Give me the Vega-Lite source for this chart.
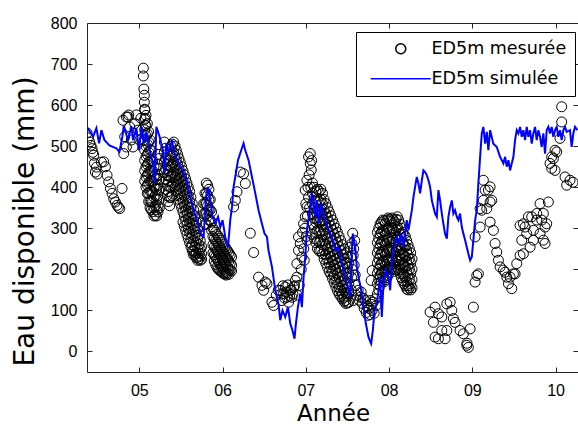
{
"$schema": "https://vega.github.io/schema/vega-lite/v6.json",
"width": 491, "height": 349,
"autosize": {"type": "none"},
"padding": {"left": 87, "top": 23, "right": 0, "bottom": 53},
"background": "white",
"config": {"view": {"stroke": null}, "font": "Liberation Sans"},
"datasets": {
"mesure": [
{"t":2004.372,"v":532},{"t":2004.388,"v":520},{"t":2004.403,"v":510},{"t":2004.418,"v":502},{"t":2004.432,"v":494},{"t":2004.442,"v":485},{"t":2004.451,"v":478},{"t":2004.460,"v":458},{"t":2004.472,"v":437},{"t":2004.484,"v":449},{"t":2004.496,"v":432},
{"t":2004.544,"v":461},{"t":2004.572,"v":462},{"t":2004.592,"v":450},{"t":2004.612,"v":429},{"t":2004.632,"v":413},{"t":2004.652,"v":397},{"t":2004.672,"v":385},{"t":2004.692,"v":372},{"t":2004.712,"v":364},{"t":2004.732,"v":356},{"t":2004.748,"v":351},{"t":2004.764,"v":348},{"t":2004.792,"v":397},{"t":2004.812,"v":482},
{"t":2004.804,"v":563},{"t":2004.824,"v":523},{"t":2004.844,"v":498},{"t":2004.844,"v":571},{"t":2004.864,"v":571},{"t":2004.872,"v":576},{"t":2004.884,"v":547},{"t":2004.904,"v":515},{"t":2004.924,"v":498},{"t":2004.944,"v":555},{"t":2004.964,"v":576},{"t":2004.984,"v":539},{"t":2005.004,"v":515},{"t":2005.018,"v":568},
{"t":2005.048,"v":690},{"t":2005.048,"v":671},{"t":2005.054,"v":639},{"t":2005.060,"v":624},{"t":2005.060,"v":607},{"t":2005.066,"v":588},{"t":2005.072,"v":568},{"t":2005.072,"v":551},
{"t":2005.064,"v":590},{"t":2005.064,"v":565},{"t":2005.064,"v":540},{"t":2005.064,"v":515},{"t":2005.064,"v":490},{"t":2005.064,"v":465},{"t":2005.064,"v":440},{"t":2005.064,"v":415},
{"t":2005.080,"v":575},{"t":2005.080,"v":550},{"t":2005.080,"v":525},{"t":2005.080,"v":500},{"t":2005.080,"v":475},{"t":2005.080,"v":450},{"t":2005.080,"v":425},{"t":2005.080,"v":400},
{"t":2005.096,"v":555},{"t":2005.096,"v":530},{"t":2005.096,"v":505},{"t":2005.096,"v":480},{"t":2005.096,"v":455},{"t":2005.096,"v":430},{"t":2005.096,"v":405},{"t":2005.096,"v":385},
{"t":2005.112,"v":535},{"t":2005.112,"v":510},{"t":2005.112,"v":485},{"t":2005.112,"v":460},{"t":2005.112,"v":435},{"t":2005.112,"v":410},{"t":2005.112,"v":385},{"t":2005.112,"v":365},
{"t":2005.128,"v":515},{"t":2005.128,"v":490},{"t":2005.128,"v":465},{"t":2005.128,"v":440},{"t":2005.128,"v":415},{"t":2005.128,"v":390},{"t":2005.128,"v":365},{"t":2005.128,"v":350},
{"t":2005.144,"v":490},{"t":2005.144,"v":465},{"t":2005.144,"v":440},{"t":2005.144,"v":415},{"t":2005.144,"v":390},{"t":2005.144,"v":365},{"t":2005.144,"v":345},
{"t":2005.160,"v":465},{"t":2005.160,"v":440},{"t":2005.160,"v":415},{"t":2005.160,"v":390},{"t":2005.160,"v":365},{"t":2005.160,"v":340},
{"t":2005.176,"v":450},{"t":2005.176,"v":425},{"t":2005.176,"v":400},{"t":2005.176,"v":375},{"t":2005.176,"v":350},{"t":2005.176,"v":330},
{"t":2005.192,"v":430},{"t":2005.192,"v":405},{"t":2005.192,"v":380},{"t":2005.192,"v":355},{"t":2005.192,"v":332},
{"t":2005.208,"v":420},{"t":2005.208,"v":395},{"t":2005.208,"v":370},{"t":2005.208,"v":345},{"t":2005.208,"v":330},
{"t":2005.224,"v":480},{"t":2005.224,"v":455},{"t":2005.224,"v":430},{"t":2005.224,"v":405},{"t":2005.224,"v":380},{"t":2005.224,"v":355},{"t":2005.224,"v":340},
{"t":2005.240,"v":470},{"t":2005.240,"v":445},{"t":2005.240,"v":420},{"t":2005.240,"v":395},{"t":2005.240,"v":370},{"t":2005.240,"v":350},
{"t":2005.300,"v":510},{"t":2005.300,"v":485},{"t":2005.300,"v":460},{"t":2005.300,"v":435},
{"t":2005.316,"v":495},{"t":2005.316,"v":470},{"t":2005.316,"v":445},{"t":2005.316,"v":420},{"t":2005.316,"v":395},
{"t":2005.332,"v":480},{"t":2005.332,"v":455},{"t":2005.332,"v":430},{"t":2005.332,"v":405},{"t":2005.332,"v":380},
{"t":2005.348,"v":465},{"t":2005.348,"v":440},{"t":2005.348,"v":415},{"t":2005.348,"v":390},{"t":2005.348,"v":365},
{"t":2005.364,"v":450},{"t":2005.364,"v":425},{"t":2005.364,"v":400},{"t":2005.364,"v":375},{"t":2005.364,"v":355},
{"t":2005.380,"v":500},{"t":2005.380,"v":475},{"t":2005.380,"v":450},{"t":2005.380,"v":425},{"t":2005.380,"v":400},{"t":2005.380,"v":375},
{"t":2005.396,"v":505},{"t":2005.396,"v":480},{"t":2005.396,"v":455},{"t":2005.396,"v":430},{"t":2005.396,"v":405},{"t":2005.396,"v":380},
{"t":2005.412,"v":510},{"t":2005.412,"v":485},{"t":2005.412,"v":460},{"t":2005.412,"v":435},{"t":2005.412,"v":410},
{"t":2005.428,"v":500},{"t":2005.428,"v":475},{"t":2005.428,"v":450},{"t":2005.428,"v":425},{"t":2005.428,"v":400},
{"t":2005.444,"v":490},{"t":2005.444,"v":465},{"t":2005.444,"v":440},{"t":2005.444,"v":415},{"t":2005.444,"v":390},
{"t":2005.460,"v":480},{"t":2005.460,"v":455},{"t":2005.460,"v":430},{"t":2005.460,"v":405},{"t":2005.460,"v":380},
{"t":2005.476,"v":470},{"t":2005.476,"v":445},{"t":2005.476,"v":420},{"t":2005.476,"v":395},{"t":2005.476,"v":370},
{"t":2005.492,"v":460},{"t":2005.492,"v":435},{"t":2005.492,"v":410},{"t":2005.492,"v":385},{"t":2005.492,"v":360},
{"t":2005.508,"v":450},{"t":2005.508,"v":425},{"t":2005.508,"v":400},{"t":2005.508,"v":375},{"t":2005.508,"v":350},
{"t":2005.524,"v":440},{"t":2005.524,"v":415},{"t":2005.524,"v":390},{"t":2005.524,"v":365},{"t":2005.524,"v":340},{"t":2005.524,"v":315},
{"t":2005.540,"v":430},{"t":2005.540,"v":405},{"t":2005.540,"v":380},{"t":2005.540,"v":355},{"t":2005.540,"v":330},{"t":2005.540,"v":305},
{"t":2005.556,"v":420},{"t":2005.556,"v":395},{"t":2005.556,"v":370},{"t":2005.556,"v":345},{"t":2005.556,"v":320},{"t":2005.556,"v":295},
{"t":2005.572,"v":410},{"t":2005.572,"v":385},{"t":2005.572,"v":360},{"t":2005.572,"v":335},{"t":2005.572,"v":310},{"t":2005.572,"v":285},
{"t":2005.588,"v":400},{"t":2005.588,"v":375},{"t":2005.588,"v":350},{"t":2005.588,"v":325},{"t":2005.588,"v":300},{"t":2005.588,"v":275},
{"t":2005.604,"v":390},{"t":2005.604,"v":365},{"t":2005.604,"v":340},{"t":2005.604,"v":315},{"t":2005.604,"v":290},{"t":2005.604,"v":265},
{"t":2005.620,"v":375},{"t":2005.620,"v":350},{"t":2005.620,"v":325},{"t":2005.620,"v":300},{"t":2005.620,"v":275},{"t":2005.620,"v":255},
{"t":2005.636,"v":360},{"t":2005.636,"v":335},{"t":2005.636,"v":310},{"t":2005.636,"v":285},{"t":2005.636,"v":260},{"t":2005.636,"v":245},
{"t":2005.652,"v":345},{"t":2005.652,"v":320},{"t":2005.652,"v":295},{"t":2005.652,"v":270},{"t":2005.652,"v":245},{"t":2005.652,"v":235},
{"t":2005.668,"v":330},{"t":2005.668,"v":305},{"t":2005.668,"v":280},{"t":2005.668,"v":255},{"t":2005.668,"v":235},
{"t":2005.684,"v":315},{"t":2005.684,"v":290},{"t":2005.684,"v":265},{"t":2005.684,"v":240},{"t":2005.684,"v":228},
{"t":2005.700,"v":300},{"t":2005.700,"v":275},{"t":2005.700,"v":250},{"t":2005.700,"v":230},{"t":2005.700,"v":222},
{"t":2005.716,"v":285},{"t":2005.716,"v":260},{"t":2005.716,"v":240},{"t":2005.716,"v":225},
{"t":2005.732,"v":270},{"t":2005.732,"v":250},{"t":2005.732,"v":232},{"t":2005.732,"v":222},
{"t":2005.748,"v":255},{"t":2005.748,"v":238},{"t":2005.748,"v":225},
{"t":2005.772,"v":360},{"t":2005.772,"v":335},
{"t":2005.788,"v":385},{"t":2005.788,"v":360},{"t":2005.788,"v":335},{"t":2005.788,"v":310},
{"t":2005.804,"v":410},{"t":2005.804,"v":385},{"t":2005.804,"v":360},{"t":2005.804,"v":335},{"t":2005.804,"v":310},
{"t":2005.820,"v":405},{"t":2005.820,"v":380},{"t":2005.820,"v":355},{"t":2005.820,"v":330},
{"t":2005.836,"v":395},{"t":2005.836,"v":370},{"t":2005.836,"v":345},{"t":2005.836,"v":320},
{"t":2005.852,"v":370},{"t":2005.852,"v":345},{"t":2005.852,"v":320},
{"t":2005.868,"v":340},{"t":2005.868,"v":315},{"t":2005.868,"v":295},
{"t":2005.884,"v":300},{"t":2005.884,"v":280},{"t":2005.884,"v":260},{"t":2005.884,"v":240},
{"t":2005.900,"v":295},{"t":2005.900,"v":275},{"t":2005.900,"v":255},{"t":2005.900,"v":235},{"t":2005.900,"v":220},
{"t":2005.916,"v":290},{"t":2005.916,"v":270},{"t":2005.916,"v":250},{"t":2005.916,"v":230},{"t":2005.916,"v":212},
{"t":2005.932,"v":285},{"t":2005.932,"v":265},{"t":2005.932,"v":245},{"t":2005.932,"v":225},{"t":2005.932,"v":205},
{"t":2005.948,"v":280},{"t":2005.948,"v":260},{"t":2005.948,"v":240},{"t":2005.948,"v":220},{"t":2005.948,"v":200},
{"t":2005.964,"v":275},{"t":2005.964,"v":255},{"t":2005.964,"v":235},{"t":2005.964,"v":215},{"t":2005.964,"v":198},
{"t":2005.980,"v":270},{"t":2005.980,"v":250},{"t":2005.980,"v":230},{"t":2005.980,"v":210},{"t":2005.980,"v":195},
{"t":2005.996,"v":265},{"t":2005.996,"v":245},{"t":2005.996,"v":225},{"t":2005.996,"v":205},{"t":2005.996,"v":192},
{"t":2006.012,"v":260},{"t":2006.012,"v":240},{"t":2006.012,"v":220},{"t":2006.012,"v":200},{"t":2006.012,"v":190},
{"t":2006.028,"v":255},{"t":2006.028,"v":235},{"t":2006.028,"v":215},{"t":2006.028,"v":195},{"t":2006.028,"v":188},
{"t":2006.044,"v":250},{"t":2006.044,"v":230},{"t":2006.044,"v":210},{"t":2006.044,"v":192},{"t":2006.044,"v":186},
{"t":2006.060,"v":245},{"t":2006.060,"v":225},{"t":2006.060,"v":205},{"t":2006.060,"v":190},
{"t":2006.076,"v":240},{"t":2006.076,"v":220},{"t":2006.076,"v":200},{"t":2006.076,"v":188},
{"t":2006.092,"v":235},{"t":2006.092,"v":215},{"t":2006.092,"v":198},
{"t":2006.108,"v":230},{"t":2006.108,"v":210},{"t":2006.108,"v":196},
{"t":2006.132,"v":352},{"t":2006.153,"v":368},{"t":2006.173,"v":389},{"t":2006.213,"v":437},{"t":2006.252,"v":433},{"t":2006.273,"v":409},{"t":2006.333,"v":288},{"t":2006.373,"v":241},{"t":2006.432,"v":181},{"t":2006.473,"v":161},{"t":2006.493,"v":149},{"t":2006.513,"v":169},{"t":2006.533,"v":165},{"t":2006.593,"v":120},{"t":2006.613,"v":112},
{"t":2006.645,"v":137},{"t":2006.669,"v":149},{"t":2006.693,"v":149},{"t":2006.705,"v":140},{"t":2006.713,"v":124},{"t":2006.725,"v":160},{"t":2006.733,"v":141},{"t":2006.745,"v":130},{"t":2006.753,"v":157},{"t":2006.765,"v":145},{"t":2006.773,"v":132},{"t":2006.785,"v":162},{"t":2006.793,"v":120},{"t":2006.805,"v":135},{"t":2006.813,"v":149},{"t":2006.825,"v":150},{"t":2006.833,"v":132},{"t":2006.845,"v":140},{"t":2006.853,"v":157},{"t":2006.865,"v":160},{"t":2006.873,"v":173},{"t":2006.893,"v":181},{"t":2006.897,"v":137},{"t":2006.921,"v":161},
{"t":2006.893,"v":214},{"t":2006.912,"v":246},{"t":2006.912,"v":279},{"t":2006.933,"v":263},{"t":2006.945,"v":200},{"t":2006.953,"v":230},{"t":2006.960,"v":290},{"t":2006.973,"v":311},{"t":2006.975,"v":250},{"t":2006.981,"v":222},{"t":2006.990,"v":300},{"t":2006.993,"v":328},{"t":2006.993,"v":393},{"t":2007.000,"v":360},{"t":2007.005,"v":280},{"t":2007.013,"v":352},{"t":2007.013,"v":417},{"t":2007.017,"v":271},{"t":2007.020,"v":330},{"t":2007.025,"v":400},{"t":2007.033,"v":376},{"t":2007.033,"v":474},{"t":2007.040,"v":430},{"t":2007.045,"v":350},{"t":2007.053,"v":458},{"t":2007.053,"v":482},{"t":2007.060,"v":400},{"t":2007.065,"v":442},{"t":2007.070,"v":465},
{"t":2007.080,"v":410},{"t":2007.080,"v":385},{"t":2007.080,"v":360},{"t":2007.080,"v":335},{"t":2007.080,"v":310},{"t":2007.080,"v":285},
{"t":2007.100,"v":400},{"t":2007.100,"v":375},{"t":2007.100,"v":350},{"t":2007.100,"v":325},{"t":2007.100,"v":300},{"t":2007.100,"v":275},
{"t":2007.120,"v":390},{"t":2007.120,"v":365},{"t":2007.120,"v":340},{"t":2007.120,"v":315},{"t":2007.120,"v":290},{"t":2007.120,"v":265},
{"t":2007.140,"v":395},{"t":2007.140,"v":370},{"t":2007.140,"v":345},{"t":2007.140,"v":320},{"t":2007.140,"v":295},{"t":2007.140,"v":270},{"t":2007.140,"v":250},
{"t":2007.160,"v":390},{"t":2007.160,"v":365},{"t":2007.160,"v":340},{"t":2007.160,"v":315},{"t":2007.160,"v":290},{"t":2007.160,"v":265},{"t":2007.160,"v":245},
{"t":2007.180,"v":395},{"t":2007.180,"v":370},{"t":2007.180,"v":345},{"t":2007.180,"v":320},{"t":2007.180,"v":295},{"t":2007.180,"v":270},{"t":2007.180,"v":245},
{"t":2007.200,"v":385},{"t":2007.200,"v":360},{"t":2007.200,"v":335},{"t":2007.200,"v":310},{"t":2007.200,"v":285},{"t":2007.200,"v":260},{"t":2007.200,"v":238},
{"t":2007.220,"v":370},{"t":2007.220,"v":345},{"t":2007.220,"v":320},{"t":2007.220,"v":295},{"t":2007.220,"v":270},{"t":2007.220,"v":245},{"t":2007.220,"v":225},
{"t":2007.240,"v":360},{"t":2007.240,"v":335},{"t":2007.240,"v":310},{"t":2007.240,"v":285},{"t":2007.240,"v":260},{"t":2007.240,"v":235},{"t":2007.240,"v":215},
{"t":2007.260,"v":350},{"t":2007.260,"v":325},{"t":2007.260,"v":300},{"t":2007.260,"v":275},{"t":2007.260,"v":250},{"t":2007.260,"v":225},{"t":2007.260,"v":205},
{"t":2007.280,"v":340},{"t":2007.280,"v":315},{"t":2007.280,"v":290},{"t":2007.280,"v":265},{"t":2007.280,"v":240},{"t":2007.280,"v":215},{"t":2007.280,"v":195},
{"t":2007.300,"v":330},{"t":2007.300,"v":305},{"t":2007.300,"v":280},{"t":2007.300,"v":255},{"t":2007.300,"v":230},{"t":2007.300,"v":205},{"t":2007.300,"v":188},
{"t":2007.320,"v":320},{"t":2007.320,"v":295},{"t":2007.320,"v":270},{"t":2007.320,"v":245},{"t":2007.320,"v":220},{"t":2007.320,"v":195},{"t":2007.320,"v":178},
{"t":2007.340,"v":310},{"t":2007.340,"v":285},{"t":2007.340,"v":260},{"t":2007.340,"v":235},{"t":2007.340,"v":210},{"t":2007.340,"v":185},{"t":2007.340,"v":168},
{"t":2007.360,"v":300},{"t":2007.360,"v":275},{"t":2007.360,"v":250},{"t":2007.360,"v":225},{"t":2007.360,"v":200},{"t":2007.360,"v":175},{"t":2007.360,"v":158},
{"t":2007.380,"v":290},{"t":2007.380,"v":265},{"t":2007.380,"v":240},{"t":2007.380,"v":215},{"t":2007.380,"v":190},{"t":2007.380,"v":165},{"t":2007.380,"v":148},
{"t":2007.400,"v":280},{"t":2007.400,"v":255},{"t":2007.400,"v":230},{"t":2007.400,"v":205},{"t":2007.400,"v":180},{"t":2007.400,"v":155},{"t":2007.400,"v":140},
{"t":2007.420,"v":270},{"t":2007.420,"v":245},{"t":2007.420,"v":220},{"t":2007.420,"v":195},{"t":2007.420,"v":170},{"t":2007.420,"v":148},{"t":2007.420,"v":134},
{"t":2007.440,"v":260},{"t":2007.440,"v":235},{"t":2007.440,"v":210},{"t":2007.440,"v":185},{"t":2007.440,"v":160},{"t":2007.440,"v":140},{"t":2007.440,"v":128},
{"t":2007.460,"v":250},{"t":2007.460,"v":225},{"t":2007.460,"v":200},{"t":2007.460,"v":175},{"t":2007.460,"v":150},{"t":2007.460,"v":132},{"t":2007.460,"v":122},
{"t":2007.480,"v":240},{"t":2007.480,"v":215},{"t":2007.480,"v":190},{"t":2007.480,"v":165},{"t":2007.480,"v":142},{"t":2007.480,"v":124},{"t":2007.480,"v":117},
{"t":2007.500,"v":230},{"t":2007.500,"v":205},{"t":2007.500,"v":180},{"t":2007.500,"v":155},{"t":2007.500,"v":135},{"t":2007.500,"v":118},
{"t":2007.516,"v":215},{"t":2007.516,"v":190},{"t":2007.516,"v":165},{"t":2007.516,"v":140},{"t":2007.516,"v":120},
{"t":2007.533,"v":254},{"t":2007.540,"v":230},{"t":2007.545,"v":150},{"t":2007.550,"v":180},{"t":2007.553,"v":263},{"t":2007.557,"v":200},{"t":2007.563,"v":288},{"t":2007.569,"v":234},{"t":2007.569,"v":124},{"t":2007.575,"v":250},{"t":2007.581,"v":210},{"t":2007.587,"v":270},{"t":2007.593,"v":186},{"t":2007.599,"v":161},{"t":2007.605,"v":137},
{"t":2007.630,"v":149},{"t":2007.640,"v":125},{"t":2007.653,"v":132},{"t":2007.665,"v":145},{"t":2007.677,"v":117},{"t":2007.690,"v":130},{"t":2007.701,"v":105},{"t":2007.713,"v":124},{"t":2007.725,"v":95},{"t":2007.737,"v":110},{"t":2007.749,"v":88},{"t":2007.760,"v":105},{"t":2007.773,"v":90},{"t":2007.773,"v":124},{"t":2007.785,"v":115},{"t":2007.785,"v":173},{"t":2007.797,"v":100},{"t":2007.797,"v":197},{"t":2007.810,"v":120},{"t":2007.821,"v":93},{"t":2007.833,"v":128},{"t":2007.845,"v":112},
{"t":2007.860,"v":290},{"t":2007.860,"v":265},{"t":2007.860,"v":240},{"t":2007.860,"v":215},{"t":2007.860,"v":190},{"t":2007.860,"v":165},{"t":2007.860,"v":140},
{"t":2007.876,"v":300},{"t":2007.876,"v":275},{"t":2007.876,"v":250},{"t":2007.876,"v":225},{"t":2007.876,"v":200},{"t":2007.876,"v":175},{"t":2007.876,"v":150},
{"t":2007.892,"v":310},{"t":2007.892,"v":285},{"t":2007.892,"v":260},{"t":2007.892,"v":235},{"t":2007.892,"v":210},{"t":2007.892,"v":185},{"t":2007.892,"v":160},
{"t":2007.908,"v":315},{"t":2007.908,"v":290},{"t":2007.908,"v":265},{"t":2007.908,"v":240},{"t":2007.908,"v":215},{"t":2007.908,"v":190},{"t":2007.908,"v":170},
{"t":2007.924,"v":320},{"t":2007.924,"v":295},{"t":2007.924,"v":270},{"t":2007.924,"v":245},{"t":2007.924,"v":220},{"t":2007.924,"v":195},{"t":2007.924,"v":180},
{"t":2007.940,"v":318},{"t":2007.940,"v":293},{"t":2007.940,"v":268},{"t":2007.940,"v":243},{"t":2007.940,"v":218},{"t":2007.940,"v":195},{"t":2007.940,"v":170},
{"t":2007.956,"v":312},{"t":2007.956,"v":287},{"t":2007.956,"v":262},{"t":2007.956,"v":237},{"t":2007.956,"v":212},{"t":2007.956,"v":195},{"t":2007.956,"v":175},
{"t":2007.972,"v":320},{"t":2007.972,"v":295},{"t":2007.972,"v":270},{"t":2007.972,"v":245},{"t":2007.972,"v":220},{"t":2007.972,"v":200},{"t":2007.972,"v":180},
{"t":2007.988,"v":325},{"t":2007.988,"v":300},{"t":2007.988,"v":275},{"t":2007.988,"v":250},{"t":2007.988,"v":225},{"t":2007.988,"v":205},{"t":2007.988,"v":185},
{"t":2008.004,"v":322},{"t":2008.004,"v":297},{"t":2008.004,"v":272},{"t":2008.004,"v":247},{"t":2008.004,"v":222},{"t":2008.004,"v":205},
{"t":2008.020,"v":318},{"t":2008.020,"v":293},{"t":2008.020,"v":268},{"t":2008.020,"v":243},{"t":2008.020,"v":218},{"t":2008.020,"v":200},
{"t":2008.036,"v":325},{"t":2008.036,"v":300},{"t":2008.036,"v":275},{"t":2008.036,"v":250},{"t":2008.036,"v":225},{"t":2008.036,"v":205},
{"t":2008.052,"v":320},{"t":2008.052,"v":295},{"t":2008.052,"v":270},{"t":2008.052,"v":245},{"t":2008.052,"v":220},{"t":2008.052,"v":200},
{"t":2008.068,"v":315},{"t":2008.068,"v":290},{"t":2008.068,"v":265},{"t":2008.068,"v":240},{"t":2008.068,"v":215},{"t":2008.068,"v":195},
{"t":2008.084,"v":322},{"t":2008.084,"v":297},{"t":2008.084,"v":272},{"t":2008.084,"v":247},{"t":2008.084,"v":222},{"t":2008.084,"v":200},
{"t":2008.100,"v":328},{"t":2008.100,"v":303},{"t":2008.100,"v":278},{"t":2008.100,"v":253},{"t":2008.100,"v":228},{"t":2008.100,"v":205},
{"t":2008.116,"v":320},{"t":2008.116,"v":295},{"t":2008.116,"v":270},{"t":2008.116,"v":245},{"t":2008.116,"v":220},{"t":2008.116,"v":198},
{"t":2008.132,"v":310},{"t":2008.132,"v":285},{"t":2008.132,"v":260},{"t":2008.132,"v":235},{"t":2008.132,"v":210},{"t":2008.132,"v":190},
{"t":2008.148,"v":300},{"t":2008.148,"v":275},{"t":2008.148,"v":250},{"t":2008.148,"v":225},{"t":2008.148,"v":200},{"t":2008.148,"v":180},
{"t":2008.164,"v":290},{"t":2008.164,"v":265},{"t":2008.164,"v":240},{"t":2008.164,"v":215},{"t":2008.164,"v":190},{"t":2008.164,"v":172},
{"t":2008.180,"v":285},{"t":2008.180,"v":260},{"t":2008.180,"v":235},{"t":2008.180,"v":210},{"t":2008.180,"v":185},{"t":2008.180,"v":165},
{"t":2008.196,"v":280},{"t":2008.196,"v":255},{"t":2008.196,"v":230},{"t":2008.196,"v":205},{"t":2008.196,"v":180},{"t":2008.196,"v":160},
{"t":2008.212,"v":270},{"t":2008.212,"v":245},{"t":2008.212,"v":220},{"t":2008.212,"v":195},{"t":2008.212,"v":170},{"t":2008.212,"v":152},
{"t":2008.228,"v":260},{"t":2008.228,"v":235},{"t":2008.228,"v":210},{"t":2008.228,"v":185},{"t":2008.228,"v":160},{"t":2008.228,"v":150},
{"t":2008.244,"v":250},{"t":2008.244,"v":225},{"t":2008.244,"v":200},{"t":2008.244,"v":175},{"t":2008.244,"v":155},
{"t":2008.260,"v":240},{"t":2008.260,"v":215},{"t":2008.260,"v":190},{"t":2008.260,"v":165},{"t":2008.260,"v":150},
{"t":2008.276,"v":225},{"t":2008.276,"v":200},{"t":2008.276,"v":175},{"t":2008.276,"v":155},
{"t":2008.493,"v":96},{"t":2008.533,"v":71},{"t":2008.553,"v":108},{"t":2008.553,"v":35},{"t":2008.593,"v":92},{"t":2008.593,"v":31},{"t":2008.634,"v":84},{"t":2008.634,"v":51},{"t":2008.673,"v":31},{"t":2008.694,"v":116},{"t":2008.694,"v":51},{"t":2008.734,"v":120},{"t":2008.754,"v":100},{"t":2008.773,"v":80},{"t":2008.793,"v":71},{"t":2008.853,"v":51},{"t":2008.893,"v":43},{"t":2008.934,"v":15},{"t":2008.937,"v":20},{"t":2008.953,"v":10},{"t":2008.974,"v":55},{"t":2009.013,"v":108},
{"t":2009.034,"v":169},{"t":2009.054,"v":185},{"t":2009.073,"v":189},{"t":2009.034,"v":279},{"t":2009.094,"v":303},{"t":2009.094,"v":348},{"t":2009.114,"v":344},{"t":2009.133,"v":368},{"t":2009.154,"v":393},{"t":2009.133,"v":417},{"t":2009.174,"v":348},{"t":2009.193,"v":393},{"t":2009.214,"v":364},{"t":2009.214,"v":401},{"t":2009.234,"v":368},{"t":2009.214,"v":315},{"t":2009.253,"v":295},{"t":2009.274,"v":263},{"t":2009.294,"v":242},{"t":2009.314,"v":222},{"t":2009.334,"v":206},{"t":2009.374,"v":198},{"t":2009.394,"v":193},{"t":2009.414,"v":181},{"t":2009.434,"v":165},{"t":2009.454,"v":181},{"t":2009.474,"v":153},{"t":2009.494,"v":189},{"t":2009.514,"v":189},{"t":2009.534,"v":214},{"t":2009.574,"v":234},{"t":2009.594,"v":271},{"t":2009.614,"v":238},{"t":2009.574,"v":307},{"t":2009.634,"v":303},{"t":2009.614,"v":311},{"t":2009.654,"v":287},{"t":2009.674,"v":328},{"t":2009.694,"v":254},{"t":2009.714,"v":328},{"t":2009.734,"v":295},{"t":2009.734,"v":271},{"t":2009.774,"v":336},{"t":2009.774,"v":320},{"t":2009.814,"v":360},{"t":2009.814,"v":287},{"t":2009.834,"v":320},{"t":2009.854,"v":336},{"t":2009.854,"v":271},{"t":2009.874,"v":303},{"t":2009.874,"v":263},{"t":2009.894,"v":311},{"t":2009.914,"v":364},{"t":2009.934,"v":458},{"t":2009.954,"v":474},{"t":2009.954,"v":446},{"t":2009.974,"v":470},{"t":2009.994,"v":490},{"t":2009.994,"v":441},{"t":2010.014,"v":486},{"t":2010.054,"v":519},{"t":2010.074,"v":559},{"t":2010.074,"v":596},{"t":2010.114,"v":425},{"t":2010.134,"v":405},{"t":2010.174,"v":417},{"t":2010.210,"v":412}
],
"simule": [
{"t":2004.372,"v":546},{"t":2004.444,"v":523},{"t":2004.484,"v":544},{"t":2004.516,"v":507},{"t":2004.544,"v":539},{"t":2004.580,"v":515},{"t":2004.640,"v":502},{"t":2004.724,"v":495},{"t":2004.760,"v":486},{"t":2004.796,"v":523},{"t":2004.812,"v":549},{"t":2004.864,"v":515},{"t":2004.904,"v":549},{"t":2004.924,"v":515},{"t":2004.964,"v":544},{"t":2004.996,"v":490},{"t":2005.024,"v":547},{"t":2005.052,"v":507},{"t":2005.084,"v":535},{"t":2005.124,"v":490},{"t":2005.164,"v":458},{"t":2005.184,"v":410},{"t":2005.204,"v":547},{"t":2005.244,"v":523},{"t":2005.284,"v":490},{"t":2005.304,"v":434},{"t":2005.324,"v":507},{"t":2005.352,"v":483},{"t":2005.392,"v":515},{"t":2005.412,"v":490},{"t":2005.452,"v":466},{"t":2005.492,"v":450},{"t":2005.532,"v":434},{"t":2005.572,"v":410},{"t":2005.612,"v":376},{"t":2005.652,"v":344},{"t":2005.692,"v":320},{"t":2005.732,"v":288},{"t":2005.772,"v":279},{"t":2005.800,"v":376},{"t":2005.825,"v":401},{"t":2005.852,"v":368},{"t":2005.880,"v":328},{"t":2005.912,"v":312},{"t":2005.945,"v":328},{"t":2005.972,"v":303},{"t":2006.000,"v":320},{"t":2006.032,"v":279},{"t":2006.065,"v":254},{"t":2006.092,"v":320},{"t":2006.113,"v":352},{"t":2006.132,"v":401},{"t":2006.160,"v":434},{"t":2006.185,"v":466},{"t":2006.224,"v":490},{"t":2006.252,"v":507},{"t":2006.272,"v":490},{"t":2006.312,"v":466},{"t":2006.353,"v":425},{"t":2006.393,"v":385},{"t":2006.432,"v":344},{"t":2006.473,"v":311},{"t":2006.504,"v":287},{"t":2006.533,"v":279},{"t":2006.552,"v":246},{"t":2006.593,"v":206},{"t":2006.633,"v":149},{"t":2006.672,"v":116},{"t":2006.693,"v":76},{"t":2006.720,"v":100},{"t":2006.753,"v":84},{"t":2006.785,"v":108},{"t":2006.813,"v":68},{"t":2006.840,"v":51},{"t":2006.864,"v":31},{"t":2006.881,"v":68},{"t":2006.905,"v":108},{"t":2006.933,"v":141},{"t":2006.953,"v":108},{"t":2006.973,"v":181},{"t":2006.993,"v":230},{"t":2007.013,"v":295},{"t":2007.041,"v":336},{"t":2007.073,"v":385},{"t":2007.093,"v":360},{"t":2007.113,"v":328},{"t":2007.133,"v":368},{"t":2007.153,"v":311},{"t":2007.185,"v":360},{"t":2007.213,"v":328},{"t":2007.233,"v":320},{"t":2007.273,"v":295},{"t":2007.313,"v":279},{"t":2007.353,"v":246},{"t":2007.393,"v":254},{"t":2007.433,"v":214},{"t":2007.473,"v":181},{"t":2007.513,"v":149},{"t":2007.533,"v":132},{"t":2007.553,"v":246},{"t":2007.565,"v":287},{"t":2007.593,"v":254},{"t":2007.613,"v":206},{"t":2007.633,"v":181},{"t":2007.665,"v":149},{"t":2007.693,"v":108},{"t":2007.721,"v":68},{"t":2007.753,"v":35},{"t":2007.785,"v":19},{"t":2007.805,"v":51},{"t":2007.825,"v":100},{"t":2007.853,"v":116},{"t":2007.873,"v":149},{"t":2007.893,"v":181},{"t":2007.913,"v":84},{"t":2007.933,"v":165},{"t":2007.962,"v":198},{"t":2007.993,"v":181},{"t":2008.013,"v":149},{"t":2008.033,"v":214},{"t":2008.053,"v":246},{"t":2008.073,"v":263},{"t":2008.093,"v":279},{"t":2008.121,"v":263},{"t":2008.145,"v":287},{"t":2008.173,"v":254},{"t":2008.193,"v":287},{"t":2008.213,"v":320},{"t":2008.233,"v":295},{"t":2008.274,"v":344},{"t":2008.293,"v":376},{"t":2008.313,"v":401},{"t":2008.333,"v":425},{"t":2008.353,"v":409},{"t":2008.373,"v":385},{"t":2008.394,"v":417},{"t":2008.413,"v":441},{"t":2008.433,"v":437},{"t":2008.454,"v":429},{"t":2008.473,"v":417},{"t":2008.493,"v":401},{"t":2008.514,"v":368},{"t":2008.533,"v":352},{"t":2008.553,"v":336},{"t":2008.574,"v":328},{"t":2008.593,"v":393},{"t":2008.613,"v":368},{"t":2008.634,"v":336},{"t":2008.653,"v":311},{"t":2008.673,"v":287},{"t":2008.694,"v":275},{"t":2008.713,"v":328},{"t":2008.734,"v":352},{"t":2008.754,"v":368},{"t":2008.773,"v":336},{"t":2008.793,"v":344},{"t":2008.814,"v":328},{"t":2008.833,"v":320},{"t":2008.853,"v":336},{"t":2008.874,"v":303},{"t":2008.893,"v":287},{"t":2008.914,"v":271},{"t":2008.934,"v":254},{"t":2008.953,"v":238},{"t":2008.974,"v":222},{"t":2008.994,"v":230},{"t":2009.013,"v":271},{"t":2009.034,"v":320},{"t":2009.054,"v":344},{"t":2009.073,"v":409},{"t":2009.094,"v":474},{"t":2009.114,"v":531},{"t":2009.133,"v":547},{"t":2009.154,"v":506},{"t":2009.174,"v":535},{"t":2009.193,"v":490},{"t":2009.214,"v":539},{"t":2009.253,"v":506},{"t":2009.294,"v":498},{"t":2009.334,"v":474},{"t":2009.374,"v":458},{"t":2009.394,"v":474},{"t":2009.414,"v":450},{"t":2009.434,"v":466},{"t":2009.454,"v":441},{"t":2009.474,"v":458},{"t":2009.494,"v":474},{"t":2009.514,"v":515},{"t":2009.534,"v":539},{"t":2009.554,"v":531},{"t":2009.574,"v":547},{"t":2009.594,"v":523},{"t":2009.614,"v":539},{"t":2009.634,"v":515},{"t":2009.654,"v":547},{"t":2009.674,"v":523},{"t":2009.694,"v":539},{"t":2009.714,"v":506},{"t":2009.734,"v":531},{"t":2009.754,"v":547},{"t":2009.774,"v":515},{"t":2009.794,"v":539},{"t":2009.814,"v":523},{"t":2009.834,"v":498},{"t":2009.854,"v":531},{"t":2009.874,"v":482},{"t":2009.894,"v":539},{"t":2009.914,"v":547},{"t":2009.934,"v":531},{"t":2009.954,"v":547},{"t":2009.974,"v":523},{"t":2009.994,"v":539},{"t":2010.014,"v":547},{"t":2010.034,"v":523},{"t":2010.054,"v":539},{"t":2010.074,"v":515},{"t":2010.094,"v":539},{"t":2010.114,"v":547},{"t":2010.134,"v":535},{"t":2010.174,"v":539},{"t":2010.194,"v":498},{"t":2010.214,"v":531},{"t":2010.234,"v":547},{"t":2010.262,"v":539}
]
},
"layer": [
{
"data": {"name": "mesure"},
"mark": {"type": "point", "filled": false, "size": 100, "strokeWidth": 1, "opacity": 1, "clip": true},
"encoding": {
"x": {"field": "t", "type": "quantitative",
"scale": {"domain": [2004.371, 2010.270], "nice": false, "zero": false},
"axis": {"orient": "bottom", "values": [2005, 2006, 2007, 2008, 2009, 2010], "labelExpr": "format(datum.value - 2000, '02d')", "grid": false, "tickSize": -5, "tickColor": "#262626", "domainColor": "#262626", "labelPadding": 15, "labelFont": "Liberation Sans", "labelFontSize": 16, "labelColor": "#000", "labelFlush": false, "labelOverlap": false, "title": "Année", "titleFont": "DejaVu Sans", "titleFontSize": 23, "titleFontWeight": "normal", "titleColor": "#000", "titleX": 246, "titleY": 48, "titleBaseline": "alphabetic", "titleAlign": "center"}},
"y": {"field": "v", "type": "quantitative",
"scale": {"domain": [-50, 800], "nice": false, "zero": false},
"axis": {"orient": "left", "values": [0, 100, 200, 300, 400, 500, 600, 700, 800], "grid": false, "tickSize": -5, "tickColor": "#262626", "domainColor": "#262626", "labelPadding": 15, "labelFont": "Liberation Sans", "labelFontSize": 16, "labelColor": "#000", "labelFlush": false, "labelOverlap": false, "title": "Eau disponible (mm)", "titleFont": "DejaVu Sans", "titleFontSize": 28, "titleFontWeight": "normal", "titleColor": "#000", "titleAngle": 270, "titleX": -54, "titleY": 198, "titleBaseline": "alphabetic", "titleAlign": "center"}},
"color": {"datum": "ED5m mesurée",
"scale": {"domain": ["ED5m mesurée", "ED5m simulée"], "range": ["#000000", "#0000ff"]},
"legend": {"title": null, "orient": "none", "legendX": 269, "legendY": 9, "strokeColor": "#000", "fillColor": "#fff", "padding": 8, "labelFont": "DejaVu Sans", "labelFontSize": 17.5, "labelColor": "#000", "symbolSize": 100, "symbolOffset": 28, "labelOffset": 22, "rowPadding": 11,
"encode": {"symbols": {"update": {"fill": {"value": "transparent"}, "strokeWidth": {"signal": "datum.value === 'ED5m simulée' ? 2 : 1"}}}}}},
"shape": {"datum": "ED5m mesurée",
"scale": {"domain": ["ED5m mesurée", "ED5m simulée"], "range": ["circle", "M-6,0H6"]},
"legend": {"title": null, "orient": "none", "legendX": 269, "legendY": 9, "strokeColor": "#000", "fillColor": "#fff", "padding": 8, "labelFont": "DejaVu Sans", "labelFontSize": 17.5, "labelColor": "#000", "symbolSize": 100, "symbolOffset": 28, "labelOffset": 22, "rowPadding": 11,
"encode": {"symbols": {"update": {"fill": {"value": "transparent"}, "strokeWidth": {"signal": "datum.value === 'ED5m simulée' ? 2 : 1"}}}}}}
}
},
{
"data": {"name": "simule"},
"mark": {"type": "line", "strokeWidth": 2, "clip": true},
"encoding": {
"x": {"field": "t", "type": "quantitative",
"axis": {"orient": "top", "values": [2005, 2006, 2007, 2008, 2009, 2010], "labels": false, "title": null, "grid": false, "tickSize": -5, "tickColor": "#262626", "domainColor": "#262626"}},
"y": {"field": "v", "type": "quantitative",
"axis": {"orient": "right", "values": [0, 100, 200, 300, 400, 500, 600, 700, 800], "labels": false, "title": null, "grid": false, "tickSize": -5, "tickColor": "#262626", "domainColor": "#262626"}},
"color": {"datum": "ED5m simulée"}
}
}
],
"resolve": {"axis": {"x": "independent", "y": "independent"}}
}
